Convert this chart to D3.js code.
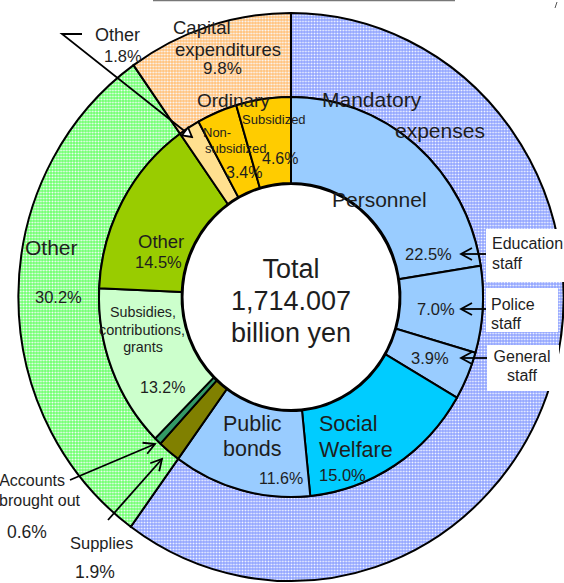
<!DOCTYPE html>
<html>
<head>
<meta charset="utf-8">
<title>Total 1,714.007 billion yen</title>
<script src="https://d3js.org/d3.v7.min.js"></script>
<style>
  body { margin: 0; background: #fff; }
  text { font-family: "Liberation Sans", Arial, sans-serif; fill: #1e1e1e; }
</style>
</head>
<body>
<svg id="chart" width="564" height="583"></svg>
<script>
// outer ring
var outerCats = ["Mandatory expenses", "Other", "Capital expenditures"];
var outerValues = [60.0, 30.2, 9.8];

// inner ring, clockwise from 12 o'clock
var innerCats = ["Education staff", "Police staff", "General staff", "Social Welfare",
    "Public bonds", "Supplies", "Accounts brought out", "Subsidies, contributions, grants",
    "Other", "Other (capital)", "Non-subsidized", "Subsidized"];
var innerValues = [22.5, 7.0, 3.9, 15.0, 11.6, 1.9, 0.6, 13.2, 14.5, 1.8, 3.4, 4.6];

var totalLabel = ["Total", "1,714.007", "billion yen"];

var svg = d3.select("#chart");
var cx = 291, cy = 297;

var outerFill = ["url(#hatchBlue)", "url(#hatchGreen)", "url(#hatchOrange)"];
var innerFill = ["#99ccff", "#99ccff", "#99ccff", "#00ccff", "#99ccff", "#808000",
    "#339966", "#ccffcc", "#99cc00", "#ffe08f", "#ffcc00", "#ffcc00"];

// hatched patterns
var defs = svg.append("defs");
function hatch(id, base, light) {
    var p = defs.append("pattern").attr("id", id)
        .attr("patternUnits", "userSpaceOnUse").attr("width", 3).attr("height", 3);
    p.append("rect").attr("width", 3).attr("height", 3).attr("fill", base);
    p.append("rect").attr("x", 0).attr("y", 0).attr("width", 3).attr("height", 1).attr("fill", light);
    p.append("rect").attr("x", 0).attr("y", 0).attr("width", 1).attr("height", 3).attr("fill", light);
    p.append("rect").attr("x", 0).attr("y", 0).attr("width", 1).attr("height", 1).attr("fill", "#f4f6ff");
}
hatch("hatchBlue", "#97a9ff", "#b3c1ff");
hatch("hatchGreen", "#78ff78", "#a4ffa4");
hatch("hatchOrange", "#ffc584", "#ffd9ad");

var arrowDefs = [["openV", "M-11,-6 L0,0 L-11,6"], ["openTri", "M-9,-5 L0,0 L-9,5 Z"]];
arrowDefs.forEach(function (a) {
    defs.append("marker").attr("id", a[0])
        .attr("viewBox", "-13 -8 15 16").attr("refX", 0).attr("refY", 0)
        .attr("markerWidth", 15).attr("markerHeight", 16)
        .attr("markerUnits", "userSpaceOnUse").attr("orient", "auto")
        .append("path").attr("d", a[1])
        .attr("fill", a[0] == "openTri" ? "#fff" : "none")
        .attr("stroke", "#000").attr("stroke-width", 1.8);
});

// stray line at the top of the original scan
svg.append("line").attr("x1", 153).attr("x2", 455).attr("y1", 0.5).attr("y2", 0.5)
    .attr("stroke", "#777").attr("stroke-width", 1.5);
svg.append("line").attr("x1", 557).attr("x2", 555).attr("y1", 2).attr("y2", 8)
    .attr("stroke", "#555").attr("stroke-width", 1);

var pie = d3.pie().sort(null).value(function (d) { return d; });
var ring = svg.append("g").attr("transform", "translate(" + cx + "," + cy + ") scale(0.96,1)");

var outerArc = d3.arc().innerRadius(200).outerRadius(284);
var innerArc = d3.arc().innerRadius(114).outerRadius(200);

ring.selectAll(".outer").data(pie(outerValues)).enter().append("path")
    .attr("class", "outer")
    .attr("d", outerArc)
    .attr("fill", function (d, i) { return outerFill[i]; })
    .attr("stroke", "#000").attr("stroke-width", 2)
    .attr("vector-effect", "non-scaling-stroke");

ring.selectAll(".inner").data(pie(innerValues)).enter().append("path")
    .attr("class", "inner")
    .attr("d", innerArc)
    .attr("fill", function (d, i) { return innerFill[i]; })
    .attr("stroke", "#000").attr("stroke-width", 2)
    .attr("vector-effect", "non-scaling-stroke");

ring.append("ellipse").attr("rx", 113).attr("ry", 113).attr("fill", "#fff")
    .attr("stroke", "#000").attr("stroke-width", 2)
    .attr("vector-effect", "non-scaling-stroke");

// white boxes for the personnel labels
var boxes = [[486, 229, 80, 53], [486, 288, 72, 44], [487, 345, 72, 46]];
boxes.forEach(function (b) {
    svg.append("rect").attr("x", b[0]).attr("y", b[1]).attr("width", b[2]).attr("height", b[3])
        .attr("fill", "#fff");
});

// leader lines
function leader(pts, marker) {
    svg.append("path").attr("d", d3.line()(pts))
        .attr("fill", "none").attr("stroke", "#000").attr("stroke-width", 1.8)
        .attr("marker-end", "url(#" + marker + ")");
}
leader([[486, 254], [461, 254]], "openV");
leader([[486, 309], [461, 309]], "openV");
leader([[487, 358], [461, 358]], "openV");
leader([[82, 34], [62, 34], [192, 137]], "openTri");
leader([[70, 480], [155, 444]], "openV");
leader([[108, 520], [162, 459]], "openV");

// labels: [text, x, y, size, anchor]
var labels = [
    ["Capital", 173, 28, 18.5, "start"],
    ["expenditures", 175, 50, 18.5, "start"],
    ["9.8%", 203, 68, 17, "start"],
    ["Other", 95, 35, 18, "start"],
    ["1.8%", 104, 56, 16.5, "start"],
    ["Ordinary", 197, 100, 19, "start"],
    ["Non-", 203, 132, 13, "start"],
    ["subsidized", 205, 148, 13, "start"],
    ["3.4%", 226, 172, 16, "start"],
    ["Subsidized", 242, 119, 13, "start"],
    ["4.6%", 262, 158, 16, "start"],
    ["Mandatory", 322, 100, 21, "start"],
    ["expenses", 395, 131, 21, "start"],
    ["Personnel", 332, 200, 21, "start"],
    ["22.5%", 405, 254, 16.5, "start"],
    ["7.0%", 417, 309, 16.5, "start"],
    ["3.9%", 411, 358, 16.5, "start"],
    ["Education", 492, 243, 16, "start"],
    ["staff", 492, 263, 16, "start"],
    ["Police", 491, 304, 16, "start"],
    ["staff", 491, 323, 16, "start"],
    ["General", 522, 356, 16, "middle"],
    ["staff", 522, 375, 16, "middle"],
    ["Social", 319, 423, 21.5, "start"],
    ["Welfare", 319, 449, 21.5, "start"],
    ["15.0%", 319, 475, 16.5, "start"],
    ["Public", 223, 423, 21.5, "start"],
    ["bonds", 223, 448, 21.5, "start"],
    ["11.6%", 259, 478, 16, "start"],
    ["Other", 138, 242, 18.5, "start"],
    ["14.5%", 135, 262, 16.5, "start"],
    ["Subsidies,", 143, 312, 14.3, "middle"],
    ["contributions,", 142, 330, 14.5, "middle"],
    ["grants", 143, 347, 14.3, "middle"],
    ["13.2%", 140, 387, 16, "start"],
    ["Other", 25, 248, 21, "start"],
    ["30.2%", 35, 297, 16.5, "start"],
    ["Accounts", 65, 480, 16, "end"],
    ["brought out", 80, 500, 16, "end"],
    ["0.6%", 7, 532, 17.5, "start"],
    ["Supplies", 70, 543, 16.5, "start"],
    ["1.9%", 75, 572, 17.5, "start"]
];
labels.forEach(function (l) {
    svg.append("text").attr("x", l[1]).attr("y", l[2]).attr("dy", "0.35em")
        .attr("font-size", l[3]).attr("text-anchor", l[4]).text(l[0]);
});

svg.selectAll(".total").data(totalLabel).enter().append("text")
    .attr("class", "total")
    .attr("x", cx).attr("y", function (d, i) { return 269 + i * 32; })
    .attr("dy", "0.35em").attr("text-anchor", "middle").attr("font-size", 27)
    .text(function (d) { return d; });
</script>
</body>
</html>
